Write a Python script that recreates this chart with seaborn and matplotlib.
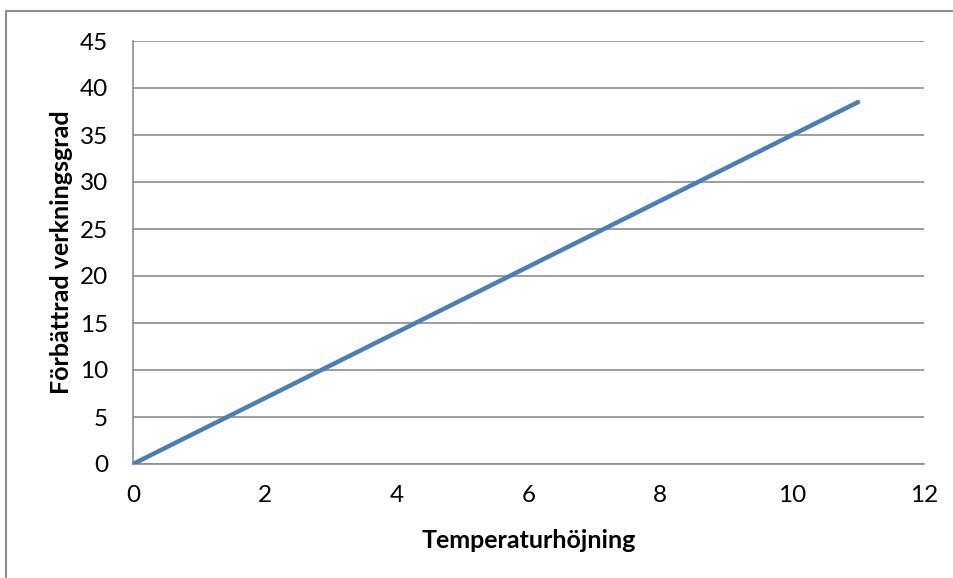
import matplotlib
matplotlib.use("Agg")
import matplotlib.pyplot as plt
import seaborn as sns
import pandas as pd
from matplotlib.lines import Line2D

temperature = [0, 2, 4, 6, 8, 10, 11]
efficiency = [0, 7, 14, 21, 28, 35, 38.5]
x_ticks = [0, 2, 4, 6, 8, 10, 12]
y_ticks = [0, 5, 10, 15, 20, 25, 30, 35, 40, 45]

df = pd.DataFrame({"Temperaturhöjning": temperature, "Förbättrad verkningsgrad": efficiency})

sns.set_style("white")
plt.rcParams['font.family'] = ['Lato', 'DejaVu Sans']
plt.rcParams['text.color'] = 'black'

fig = plt.figure(figsize=(9.54, 5.78), dpi=100)
ax = fig.add_axes([133/954, 1-464/578, (924-133)/954, (464-41)/578])

sns.lineplot(data=df, x="Temperaturhöjning", y="Förbättrad verkningsgrad", ax=ax,
             color="#4A7EBB", linewidth=3.2, solid_capstyle="round", zorder=3)

ax.set_xlim(0, 12)
ax.set_ylim(0, 45)
ax.set_xticks(x_ticks)
ax.set_yticks(y_ticks)
ax.tick_params(axis="both", length=0, labelsize=17.5, colors="black")
ax.tick_params(axis="y", pad=18)
ax.tick_params(axis="x", pad=15)
ax.yaxis.grid(True, color="#8c8c8c", linewidth=1.2)
ax.xaxis.grid(False)
for s in ["top", "right"]:
    ax.spines[s].set_visible(False)
ax.spines["left"].set_color("#8c8c8c")
ax.spines["bottom"].set_color("#8c8c8c")
ax.spines["left"].set_linewidth(1.2)
ax.spines["bottom"].set_linewidth(1.2)

ax.set_xlabel("Temperaturhöjning", fontsize=18, fontweight="bold", labelpad=17, color="black")
ax.set_ylabel("Förbättrad verkningsgrad", fontsize=18, fontweight="bold", labelpad=5, color="black")

# outer chart frame (left and top edges)
fig.add_artist(Line2D([6/954, 6/954], [0, 1-11/578], transform=fig.transFigure, color="#8c8c8c", lw=1.5))
fig.add_artist(Line2D([6/954, 1], [1-11/578, 1-11/578], transform=fig.transFigure, color="#8c8c8c", lw=1.5))

fig.savefig("out.png", dpi=100)
